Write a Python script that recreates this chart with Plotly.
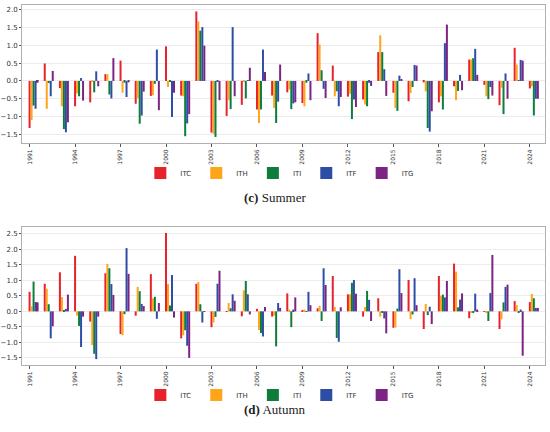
import plotly.graph_objects as go
from plotly.subplots import make_subplots

years = list(range(1991, 2025))
tick_years = list(range(1991, 2025, 3))
series_names = ['ITC', 'ITH', 'ITI', 'ITF', 'ITG']
colors = ['#e8222b', '#ffa51a', '#0e7d3c', '#2e4ea6', '#7b2484']

# (c) Summer
itc_summer = [-1.32, 0.49, -0.2, -0.71, -0.6, 0.19, 0.57, -0.64, -0.42, 0.97, -0.41, 1.95, -1.45, -0.98, -0.67, -0.8, -0.41,
              -0.32, -0.62, 1.34, 0.43, -0.44, -0.52, 0.81, -0.33, -0.57, -0.04, -0.6, -0.15, 0.6, -0.11, -0.68, 0.93, -0.21]
ith_summer = [-1.1, -0.78, -0.71, -0.35, -0.02, 0.19, -0.33, -0.48, -0.4, -0.17, -0.43, 1.67, -1.48, -0.54, -0.02, -1.18, -0.76,
              -0.24, -0.71, 1.02, -0.43, -0.36, -0.66, 1.28, -0.76, -0.34, -0.29, -0.43, -0.54, 0.6, -0.43, -0.19, 0.46, -0.15]
iti_summer = [-0.69, -0.06, -1.35, -0.43, -0.32, -0.38, -0.05, -1.2, -0.08, -0.02, -1.55, 1.41, -1.57, -0.79, -0.49, -0.8, -1.18,
              -0.79, -0.05, 0.3, -0.29, -1.07, -0.71, 0.81, -0.84, -0.17, -1.32, -0.8, -0.28, 0.64, -0.51, -0.93, 0.01, -0.97]
itf_summer = [-0.78, -0.43, -1.44, 0.08, 0.27, -0.49, -0.45, -0.97, 0.88, -1.01, -1.19, 1.51, -0.03, 1.51, 0.02, 0.88, -0.58,
              -0.63, 0.21, -0.22, -0.71, -0.52, -0.05, 0.33, 0.15, 0.45, -1.42, 1.06, 0.17, 0.9, -0.17, 0.21, 0.59, -0.5]
itg_summer = [-0.05, 0.28, -1.16, -0.55, -0.15, 0.64, -0.04, -0.3, -0.82, -0.33, -0.93, 0.99, -0.54, -0.43, 0.37, 0.25, 0.46,
              -0.6, -0.54, -0.48, -0.45, -0.73, -0.14, -0.42, 0.04, 0.43, -0.85, 1.58, -0.26, 0.17, -0.41, -0.5, 0.57, -0.5]

# (d) Autumn
itc_autumn = [0.63, 0.89, 1.26, 1.79, -0.33, 1.23, -0.73, -0.14, 1.2, 2.53, -0.87, 0.89, -0.51, 0.01, -0.16, 0.08, -0.17,
              0.58, 0.03, 0.1, 1.14, 0.55, -0.17, 0.42, -0.53, 1.01, -0.57, 1.14, 1.54, -0.22, -0.02, -0.57, 0.33, 0.3]
ith_autumn = [0.16, 0.73, 0.46, -0.14, -1.09, 1.53, -0.77, 0.79, 0.42, 0.88, -0.77, 0.95, -0.36, 0.27, 0.68, -0.6, -0.14,
              0.06, 0.06, 0.18, 0.14, 0.55, 0.14, -0.17, -0.52, -0.25, 0.24, 0.5, 1.28, -0.05, -0.05, -0.26, 0.2, 0.56]
iti_autumn = [0.96, 0.23, 0.04, -0.47, -1.37, 1.39, -0.09, 0.65, 0.47, 0.19, -0.61, 0.23, -0.18, 0.1, 0.98, -0.7, -1.13,
              -0.51, 0.01, -0.31, -0.86, 0.92, 0.66, -0.03, 0.09, -0.1, -0.12, 0.54, 0.13, -0.03, -0.31, 0.29, -0.04, 0.42]
itf_autumn = [0.3, -0.87, 0.08, -1.15, -1.54, 0.88, 2.04, 0.24, -0.24, 1.17, -1.11, -0.36, 0.89, 0.55, 0.55, -0.81, 0.27,
              0.06, 0.63, 1.39, -0.98, 1.01, 0.37, -0.23, 1.36, 1.07, 0.15, 0.45, 0.38, 0.57, 0.59, 0.79, 0.06, 0.11]
itg_autumn = [0.29, -0.48, 0.54, -0.17, -0.17, 0.53, 1.21, 0.17, 0.27, -0.2, -1.5, -0.02, 1.31, 0.34, -0.1, 0.14, 0.11,
              0.45, 0.2, 0.85, 0.13, 0.57, -0.31, -0.71, 0.59, 0.2, -0.41, 0.98, 0.58, 0.06, 1.82, 0.86, -1.43, 0.11]

summer = [itc_summer, ith_summer, iti_summer, itf_summer, itg_summer]
autumn = [itc_autumn, ith_autumn, iti_autumn, itf_autumn, itg_autumn]

fig = make_subplots(rows=2, cols=1, vertical_spacing=0.1)

bw = 0.132
for row, data, leg in [(1, summer, 'legend'), (2, autumn, 'legend2')]:
    for i, (name, vals) in enumerate(zip(series_names, data)):
        fig.add_trace(go.Bar(x=years, y=vals, name=name, marker_color=colors[i],
                             marker_line_width=0, width=bw, offset=-bw / 2 + i * bw,
                             legend=leg), row=row, col=1)

axis_font = dict(family='DejaVu Sans', size=7, color='#333')
for row in [1, 2]:
    fig.update_xaxes(range=[1990.5, 2025.0], tickvals=tick_years, tickangle=-90, automargin=False,
                     tickfont=dict(family='DejaVu Sans', size=6, color='#333'),
                     ticks='outside', ticklen=3, tickcolor='#555', showgrid=False, showline=True, mirror=True,
                     linecolor='#b0b0b0', linewidth=1, row=row, col=1)
    fig.update_yaxes(tickformat='.1f', dtick=0.5, tickfont=axis_font, ticks='outside', ticklen=2, tickcolor='#555',
                     automargin=False, showgrid=True, gridcolor='#ececec', gridwidth=1, zeroline=False,
                     showline=True, mirror=True, linecolor='#b0b0b0', linewidth=1, row=row, col=1)

# plot area is x 22..545 px, y 5..365 px
fig.update_xaxes(domain=[0, 1])
fig.update_yaxes(range=[-1.74, 2.13], domain=[0.6167, 1.0], row=1, col=1)
fig.update_yaxes(range=[-1.73, 2.72], domain=[0.0, 0.3833], row=2, col=1)

leg_style = dict(orientation='h', xanchor='center', yanchor='middle', x=0.493,
                 font=dict(family='DejaVu Sans', size=7, color='#333'), bgcolor='rgba(0,0,0,0)')

cap_font = dict(family='Liberation Serif', size=13, color='#222')
fig.update_layout(
    width=550, height=432,
    margin=dict(l=22, r=5, t=5, b=67),
    barmode='overlay',
    plot_bgcolor='white', paper_bgcolor='white',
    legend=dict(y=0.533, **leg_style),
    legend2=dict(y=-0.083, **leg_style),
    annotations=[
        dict(text='<b>(c)</b> Summer', x=0.484, y=0.464, xref='paper', yref='paper', showarrow=False, font=cap_font),
        dict(text='<b>(d)</b> Autumn', x=0.484, y=-0.15, xref='paper', yref='paper', showarrow=False, font=cap_font),
    ],
)

# drop the page's default body margin so the figure sits in the corner
fig.write_html("out.html", config={'displayModeBar': False},
               post_script="document.body.style.margin = '0';")
